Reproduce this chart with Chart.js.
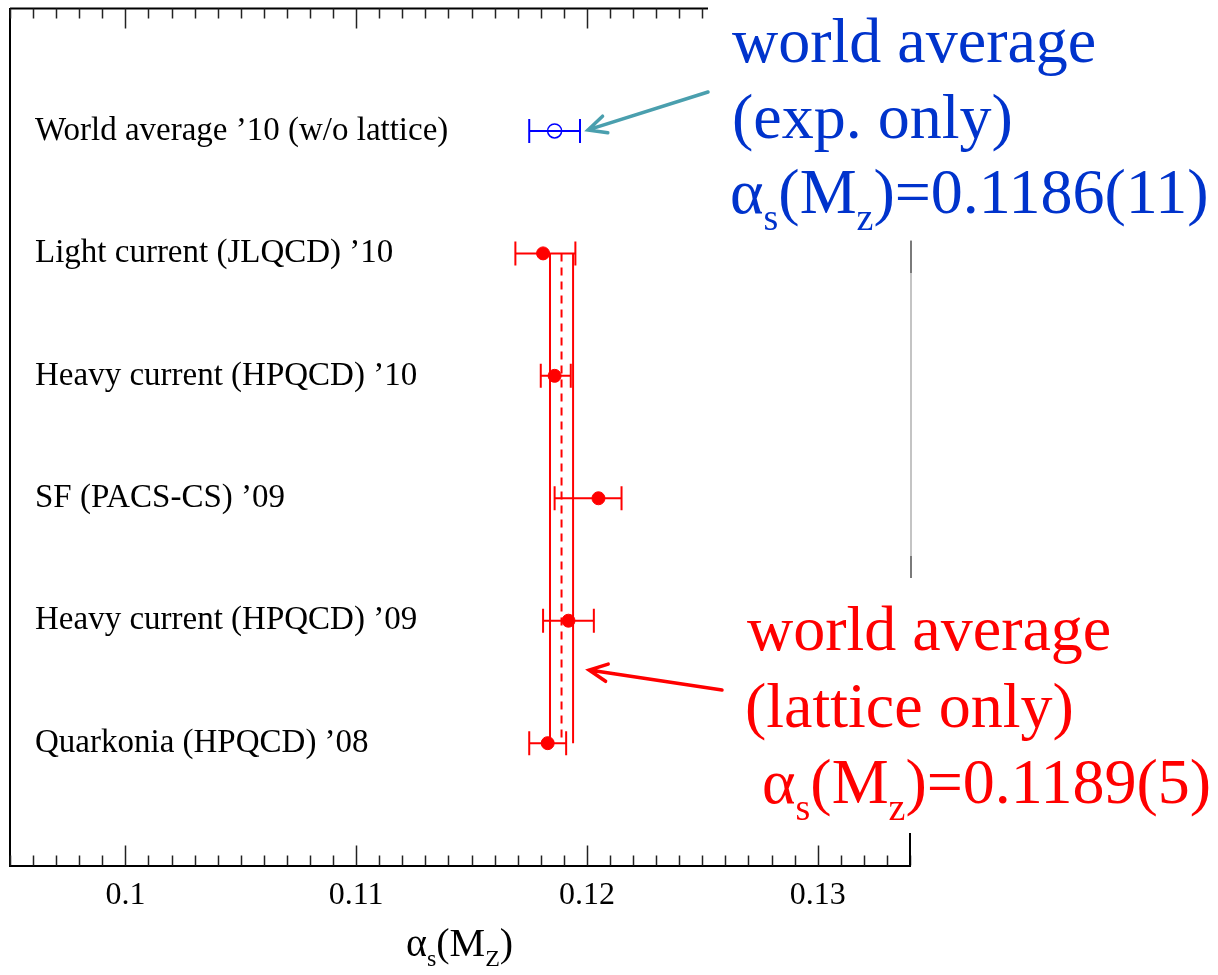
<!DOCTYPE html>
<html>
<head>
<meta charset="utf-8">
<script src="https://cdn.jsdelivr.net/npm/chart.js@4/dist/chart.umd.min.js"></script>
<style>
  html, body { margin: 0; padding: 0; background: #fff; }
  #wrap { position: relative; width: 1218px; height: 975px; }
</style>
</head>
<body>
<div id="wrap"><canvas id="alphaChart"></canvas></div>
<script>
// measurements, top row first
const labels = ["World average \u201910 (w/o lattice)", "Light current (JLQCD) \u201910", "Heavy current (HPQCD) \u201910",
                "SF (PACS-CS) \u201909", "Heavy current (HPQCD) \u201909", "Quarkonia (HPQCD) \u201908"];
const rowPos = [6, 5, 4, 3, 2, 1];
const central = [0.1186, 0.1181, 0.1186, 0.1205, 0.1192, 0.1183];
const errLow = [0.0011, 0.0012, 0.0006, 0.0019, 0.0011, 0.0008];
const errHigh = [0.0011, 0.0014, 0.0007, 0.0010, 0.0011, 0.0008];
const rowColor = ['#0000ff', '#ff0000', '#ff0000', '#ff0000', '#ff0000', '#ff0000'];

// lattice world average band
const latticeAvg = 0.1189;
const latticeErr = 0.0005;
const bandRows = [5, 1];

const xTicks = [0.1, 0.11, 0.12, 0.13];
const xMin = 0.095, xMax = 0.134, minorStep = 0.001;

const serif = '"Liberation Serif", "Times New Roman", serif';

function vline(x, dash) {
    return {
        type: 'line',
        data: bandRows.map(r => ({ x: x, y: r })),
        borderColor: '#ff0000',
        borderWidth: 2,
        borderDash: dash,
        pointRadius: 0,
        showLine: true
    };
}

const errorBars = {
    id: 'errorBars',
    beforeDatasetsDraw(chart) {
        const ctx = chart.ctx, xs = chart.scales.x, ys = chart.scales.y;
        ctx.save();
        for (let i = 0; i < central.length; i++) {
            const y = ys.getPixelForValue(rowPos[i]);
            const x1 = xs.getPixelForValue(central[i] - errLow[i]);
            const x2 = xs.getPixelForValue(central[i] + errHigh[i]);
            ctx.strokeStyle = rowColor[i];
            ctx.lineWidth = 2;
            ctx.beginPath();
            ctx.moveTo(x1, y); ctx.lineTo(x2, y);
            ctx.moveTo(x1, y - 12); ctx.lineTo(x1, y + 12);
            ctx.moveTo(x2, y - 12); ctx.lineTo(x2, y + 12);
            ctx.stroke();
        }
        ctx.restore();
    }
};

function subText(ctx, x, y, parts, size) {
    // parts: [text, isSub]
    parts.forEach(p => {
        const fs = p[1] ? Math.round(size * 0.6) : size;
        ctx.font = fs + 'px ' + serif;
        ctx.fillText(p[0], x, y + (p[1] ? size * 0.26 : 0));
        x += ctx.measureText(p[0]).width;
    });
}

function arrow(ctx, x0, y0, x1, y1, color) {
    const a = Math.atan2(y1 - y0, x1 - x0), h = 20, s = 0.45;
    ctx.strokeStyle = color;
    ctx.lineWidth = 3.5;
    ctx.lineCap = 'round';
    ctx.beginPath();
    ctx.moveTo(x0, y0); ctx.lineTo(x1, y1);
    ctx.moveTo(x1 - h * Math.cos(a - s), y1 - h * Math.sin(a - s));
    ctx.lineTo(x1, y1);
    ctx.lineTo(x1 - h * Math.cos(a + s), y1 - h * Math.sin(a + s));
    ctx.stroke();
}

const frame = {
    id: 'frame',
    afterDraw(chart) {
        const ctx = chart.ctx, xs = chart.scales.x, ys = chart.scales.y;
        const a = chart.chartArea;
        const coverX = 708;
        ctx.save();
        // top border (partly hidden behind the text box)
        ctx.strokeStyle = '#000';
        ctx.lineWidth = 2;
        ctx.beginPath();
        ctx.moveTo(a.left, a.top); ctx.lineTo(coverX, a.top);
        ctx.stroke();
        // inward tick marks, bottom and top
        ctx.lineWidth = 1.5;
        ctx.strokeStyle = '#222';
        ctx.beginPath();
        for (let k = 0; ; k++) {
            const v = xMin + k * minorStep;
            if (v > xMax + 1e-9) break;
            const px = Math.round(xs.getPixelForValue(v)) + 0.5;
            const major = xTicks.some(t => Math.abs(t - v) < 1e-7);
            const len = major ? 20 : 10;
            ctx.moveTo(px, a.bottom); ctx.lineTo(px, a.bottom - len);
            if (px < coverX) { ctx.moveTo(px, a.top); ctx.lineTo(px, a.top + len); }
        }
        ctx.stroke();
        // right border, mostly covered by the slide text boxes
        ctx.strokeStyle = '#c4c4c4';
        ctx.lineWidth = 2;
        ctx.beginPath();
        ctx.moveTo(a.right + 1, 240); ctx.lineTo(a.right + 1, 578);
        ctx.stroke();
        ctx.strokeStyle = '#7a7a7a';
        ctx.beginPath();
        ctx.moveTo(a.right + 1, 241); ctx.lineTo(a.right + 1, 273);
        ctx.moveTo(a.right + 1, 556); ctx.lineTo(a.right + 1, 578);
        ctx.stroke();
        ctx.strokeStyle = '#000';
        ctx.beginPath();
        ctx.moveTo(a.right, 833); ctx.lineTo(a.right, a.bottom);
        ctx.stroke();

        // axis title
        ctx.fillStyle = '#000';
        ctx.textBaseline = 'alphabetic';
        ctx.textAlign = 'left';
        subText(ctx, (a.left + a.right) / 2 - 54, 956, [['\u03b1', 0], ['s', 1], ['(M', 0], ['Z', 1], [')', 0]], 40);

        // arrows pointing at the averages
        arrow(ctx, 708, 92, xs.getPixelForValue(central[0] + errHigh[0]) + 8, ys.getPixelForValue(rowPos[0]) - 1, '#4a9fae');
        arrow(ctx, 722, 690, xs.getPixelForValue(latticeAvg + latticeErr) + 16, 670, '#ff0000');

        // annotation text
        ctx.fillStyle = '#0033cc';
        ctx.font = '64px ' + serif;
        ctx.fillText('world average', 732, 62);
        ctx.fillText('(exp. only)', 732, 138);
        subText(ctx, 730, 213, [['\u03b1', 0], ['s', 1], ['(M', 0], ['z', 1], [')=0.1186(11)', 0]], 64);
        ctx.fillStyle = '#ff0000';
        ctx.font = '64px ' + serif;
        ctx.fillText('world average', 747, 650);
        ctx.fillText('(lattice only)', 745, 727);
        subText(ctx, 762, 803, [['\u03b1', 0], ['s', 1], ['(M', 0], ['z', 1], [')=0.1189(5)', 0]], 64);
        ctx.restore();
    }
};

new Chart(document.getElementById('alphaChart'), {
    type: 'scatter',
    data: {
        datasets: [
            {
                data: [{ x: central[0], y: rowPos[0] }],
                pointStyle: 'circle',
                pointRadius: 7,
                borderColor: '#0000ff',
                borderWidth: 1.5,
                backgroundColor: 'rgba(0,0,0,0)'
            },
            {
                data: central.slice(1).map((v, i) => ({ x: v, y: rowPos[i + 1] })),
                pointStyle: 'circle',
                pointRadius: 6.5,
                borderColor: '#ff0000',
                backgroundColor: '#ff0000'
            },
            vline(latticeAvg - latticeErr, []),
            vline(latticeAvg, [8, 6]),
            vline(latticeAvg + latticeErr, [])
        ]
    },
    options: {
        responsive: true,
        maintainAspectRatio: false,
        animation: false,
        events: [],
        layout: { padding: { left: 10, top: 7, right: 308, bottom: 49 } },
        plugins: { legend: { display: false }, tooltip: { enabled: false } },
        scales: {
            x: {
                type: 'linear',
                position: 'bottom',
                min: xMin,
                max: xMax,
                afterBuildTicks: axis => { axis.ticks = xTicks.map(v => ({ value: v })); },
                afterFit: axis => { axis.paddingLeft = 0; axis.paddingRight = 0; },
                grid: { display: false, drawTicks: false },
                border: { display: true, color: '#000', width: 2 },
                ticks: {
                    color: '#000',
                    padding: 11,
                    maxRotation: 0,
                    font: { family: serif, size: 32 },
                    callback: v => String(v)
                }
            },
            y: {
                type: 'linear',
                position: 'left',
                min: 0,
                max: 7,
                afterBuildTicks: axis => { axis.ticks = rowPos.map(v => ({ value: v })); },
                afterFit: axis => { axis.width = 0; axis.paddingTop = 0; axis.paddingBottom = 0; },
                grid: { display: false, drawTicks: false },
                border: { display: true, color: '#000', width: 2 },
                ticks: {
                    mirror: true,
                    padding: 25,
                    color: '#000',
                    font: { family: serif, size: 33 },
                    callback: v => labels[rowPos.indexOf(v)]
                }
            }
        }
    },
    plugins: [errorBars, frame]
});
</script>
</body>
</html>
